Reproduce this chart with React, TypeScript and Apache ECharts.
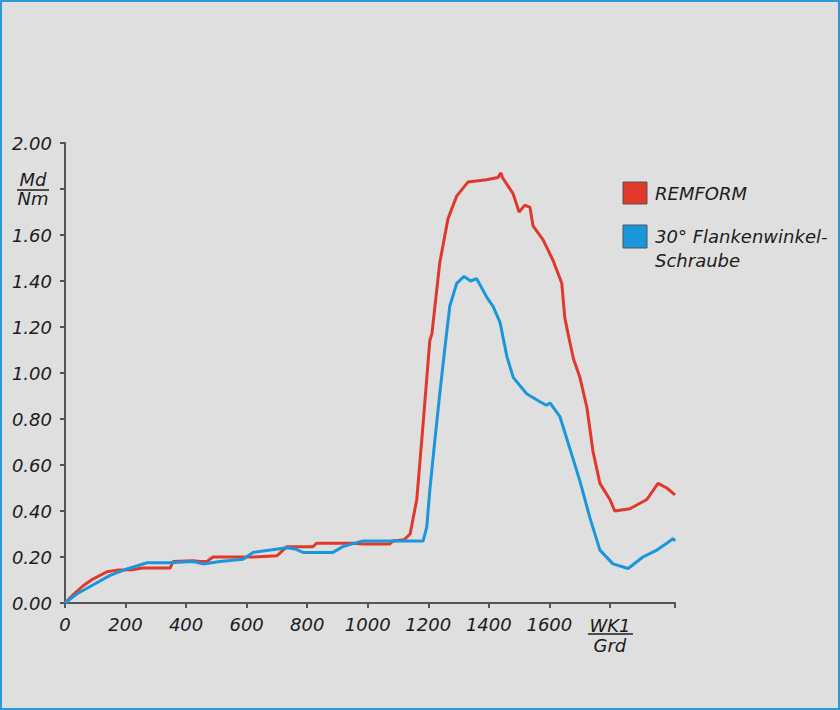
import React, { useEffect, useRef } from 'react';
import * as echarts from 'echarts';

// Drehmomentverlauf: Md [Nm] über Winkel WK1 [Grd]
const remformX = [
  0, 30, 60, 92, 139, 172, 220, 258, 347, 357, 423, 445, 468, 489, 588, 621, 700, 733, 819, 832,
  951, 984, 1073, 1083, 1120, 1140, 1162, 1183, 1205, 1212, 1238, 1265, 1294, 1331, 1393, 1430,
  1440, 1445, 1480, 1500, 1519, 1536, 1546, 1579, 1612, 1641, 1651, 1665, 1680, 1701, 1724, 1744,
  1767, 1800, 1816, 1866, 1922, 1959, 1988, 2015,
];
const remformY = [
  0, 0.04, 0.075, 0.104, 0.136, 0.143, 0.145, 0.152, 0.152, 0.18, 0.184, 0.18, 0.18, 0.2, 0.2, 0.2,
  0.205, 0.245, 0.245, 0.26, 0.26, 0.257, 0.257, 0.27, 0.275, 0.3, 0.45, 0.78, 1.14, 1.17, 1.48,
  1.67, 1.77, 1.83, 1.84, 1.85, 1.87, 1.85, 1.78, 1.7, 1.73, 1.72, 1.64, 1.58, 1.49, 1.39, 1.24,
  1.15, 1.06, 0.98, 0.85, 0.66, 0.52, 0.45, 0.4, 0.41, 0.45, 0.52, 0.5, 0.47,
];

const flankX = [
  0, 40, 92, 149, 205, 271, 347, 423, 456, 512, 588, 621, 733, 760, 786, 885, 918, 984, 1083, 1183,
  1195, 1205, 1222, 1238, 1255, 1271, 1294, 1318, 1340, 1360, 1393, 1414, 1437, 1460, 1481, 1525,
  1569, 1590, 1602, 1635, 1668, 1701, 1734, 1767, 1810, 1860, 1909, 1955, 1988, 2008, 2015,
];
const flankY = [
  0, 0.04, 0.078, 0.12, 0.148, 0.175, 0.175, 0.18, 0.17, 0.18, 0.19, 0.22, 0.24, 0.235, 0.22, 0.22,
  0.245, 0.27, 0.27, 0.27, 0.33, 0.49, 0.71, 0.91, 1.11, 1.29, 1.39, 1.42, 1.4, 1.41, 1.33, 1.29,
  1.22, 1.07, 0.98, 0.91, 0.875, 0.86, 0.87, 0.81, 0.67, 0.53, 0.37, 0.23, 0.17, 0.15, 0.2, 0.23,
  0.26, 0.28, 0.27,
];

const seriesNames = ['REMFORM', '30° Flankenwinkel-Schraube'];
const legendTexts = ['REMFORM', '30° Flankenwinkel-\nSchraube'];
const seriesColors = ['#e0392b', '#1a96dc'];

const xLabelValues = [0, 200, 400, 600, 800, 1000, 1200, 1400, 1600, 1800];
const xTickValues = [0, 200, 400, 600, 800, 1000, 1200, 1400, 1600, 1800, 2015];

const FONT = '"DejaVu Sans", sans-serif';
const TEXT = '#1c1c1c';
const AXIS = '#555555';

const App: React.FC = () => {
  const chartRef = useRef<HTMLDivElement>(null);

  useEffect(() => {
    if (!chartRef.current) return;
    const chart = echarts.init(chartRef.current, undefined, { renderer: 'svg' });

    const labelBase = {
      fontFamily: FONT,
      fontStyle: 'italic' as const,
      fontSize: 18,
      color: TEXT,
    };

    chart.setOption({
      animation: false,
      backgroundColor: 'transparent',
      grid: { left: 65, right: 165, top: 143, bottom: 107 },
      xAxis: {
        type: 'value',
        min: 0,
        max: 2015,
        interval: 200,
        splitLine: { show: false },
        axisLine: { lineStyle: { color: AXIS, width: 2 } },
        axisTick: { length: 5, lineStyle: { color: AXIS, width: 2 }, customValues: xTickValues },
        axisLabel: {
          ...labelBase,
          margin: 12,
          customValues: xLabelValues,
          formatter: (v: number) => (v === 1800 ? '{u|WK1}\n{d|Grd}' : String(v)),
          rich: {
            u: { ...labelBase, lineHeight: 20 },
            d: { ...labelBase, lineHeight: 20 },
          },
        },
      },
      yAxis: {
        type: 'value',
        min: 0,
        max: 2,
        interval: 0.2,
        splitLine: { show: false },
        axisLine: { show: true, lineStyle: { color: AXIS, width: 2 } },
        axisTick: { show: true, length: 5, lineStyle: { color: AXIS, width: 2 } },
        axisLabel: {
          ...labelBase,
          margin: 13,
          formatter: (v: number) =>
            Math.abs(v - 1.8) < 1e-6 ? '{u|Md}\n{d|Nm}' : v.toFixed(2),
          rich: {
            u: { ...labelBase, lineHeight: 19, width: 38, align: 'center' },
            d: { ...labelBase, lineHeight: 19, width: 38, align: 'center' },
          },
        },
      },
      series: [
        {
          name: seriesNames[0],
          type: 'line',
          data: remformX.map((x, i) => [x, remformY[i]]),
          showSymbol: false,
          lineStyle: { color: seriesColors[0], width: 3 },
          itemStyle: { color: seriesColors[0] },
          z: 2,
        },
        {
          name: seriesNames[1],
          type: 'line',
          data: flankX.map((x, i) => [x, flankY[i]]),
          showSymbol: false,
          lineStyle: { color: seriesColors[1], width: 3 },
          itemStyle: { color: seriesColors[1] },
          z: 3,
        },
      ],
    });

    // Bruchstriche unter den Einheiten-Beschriftungen und Legende
    const xPos = chart.convertToPixel({ gridIndex: 0 }, [1800, 0]) as number[];
    const yPos = chart.convertToPixel({ gridIndex: 0 }, [0, 1.8]) as number[];
    const textStyle = {
      font: `italic 18px ${FONT}`,
      fill: TEXT,
    };

    chart.setOption({
      graphic: [
        {
          type: 'line',
          shape: { x1: yPos[0] - 48, y1: yPos[1] + 1, x2: yPos[0] - 16, y2: yPos[1] + 1 },
          style: { stroke: TEXT, lineWidth: 1.5 },
        },
        {
          type: 'line',
          shape: { x1: xPos[0] - 22, y1: xPos[1] + 31, x2: xPos[0] + 23, y2: xPos[1] + 31 },
          style: { stroke: TEXT, lineWidth: 1.5 },
        },
        {
          type: 'rect',
          shape: { x: 623, y: 182, width: 24, height: 22 },
          style: { fill: seriesColors[0], stroke: '#555', lineWidth: 1 },
        },
        {
          type: 'text',
          x: 655,
          y: 193,
          style: { ...textStyle, text: legendTexts[0], verticalAlign: 'middle' },
        },
        {
          type: 'rect',
          shape: { x: 623, y: 225, width: 24, height: 23 },
          style: { fill: seriesColors[1], stroke: '#555', lineWidth: 1 },
        },
        {
          type: 'text',
          x: 655,
          y: 224,
          style: { ...textStyle, text: legendTexts[1], verticalAlign: 'top', lineHeight: 24 },
        },
      ],
    });

    return () => {
      chart.dispose();
    };
  }, []);

  return (
    <div
      style={{
        position: 'fixed',
        left: 0,
        top: 0,
        width: 840,
        height: 710,
        background: '#dfdfdf',
      }}
    >
      <div ref={chartRef} style={{ position: 'absolute', left: 0, top: 0, width: 840, height: 710 }} />
      <div
        style={{
          position: 'absolute',
          inset: 0,
          border: '2px solid #2a9ad8',
          boxSizing: 'border-box',
          pointerEvents: 'none',
        }}
      />
    </div>
  );
};

export default App;
